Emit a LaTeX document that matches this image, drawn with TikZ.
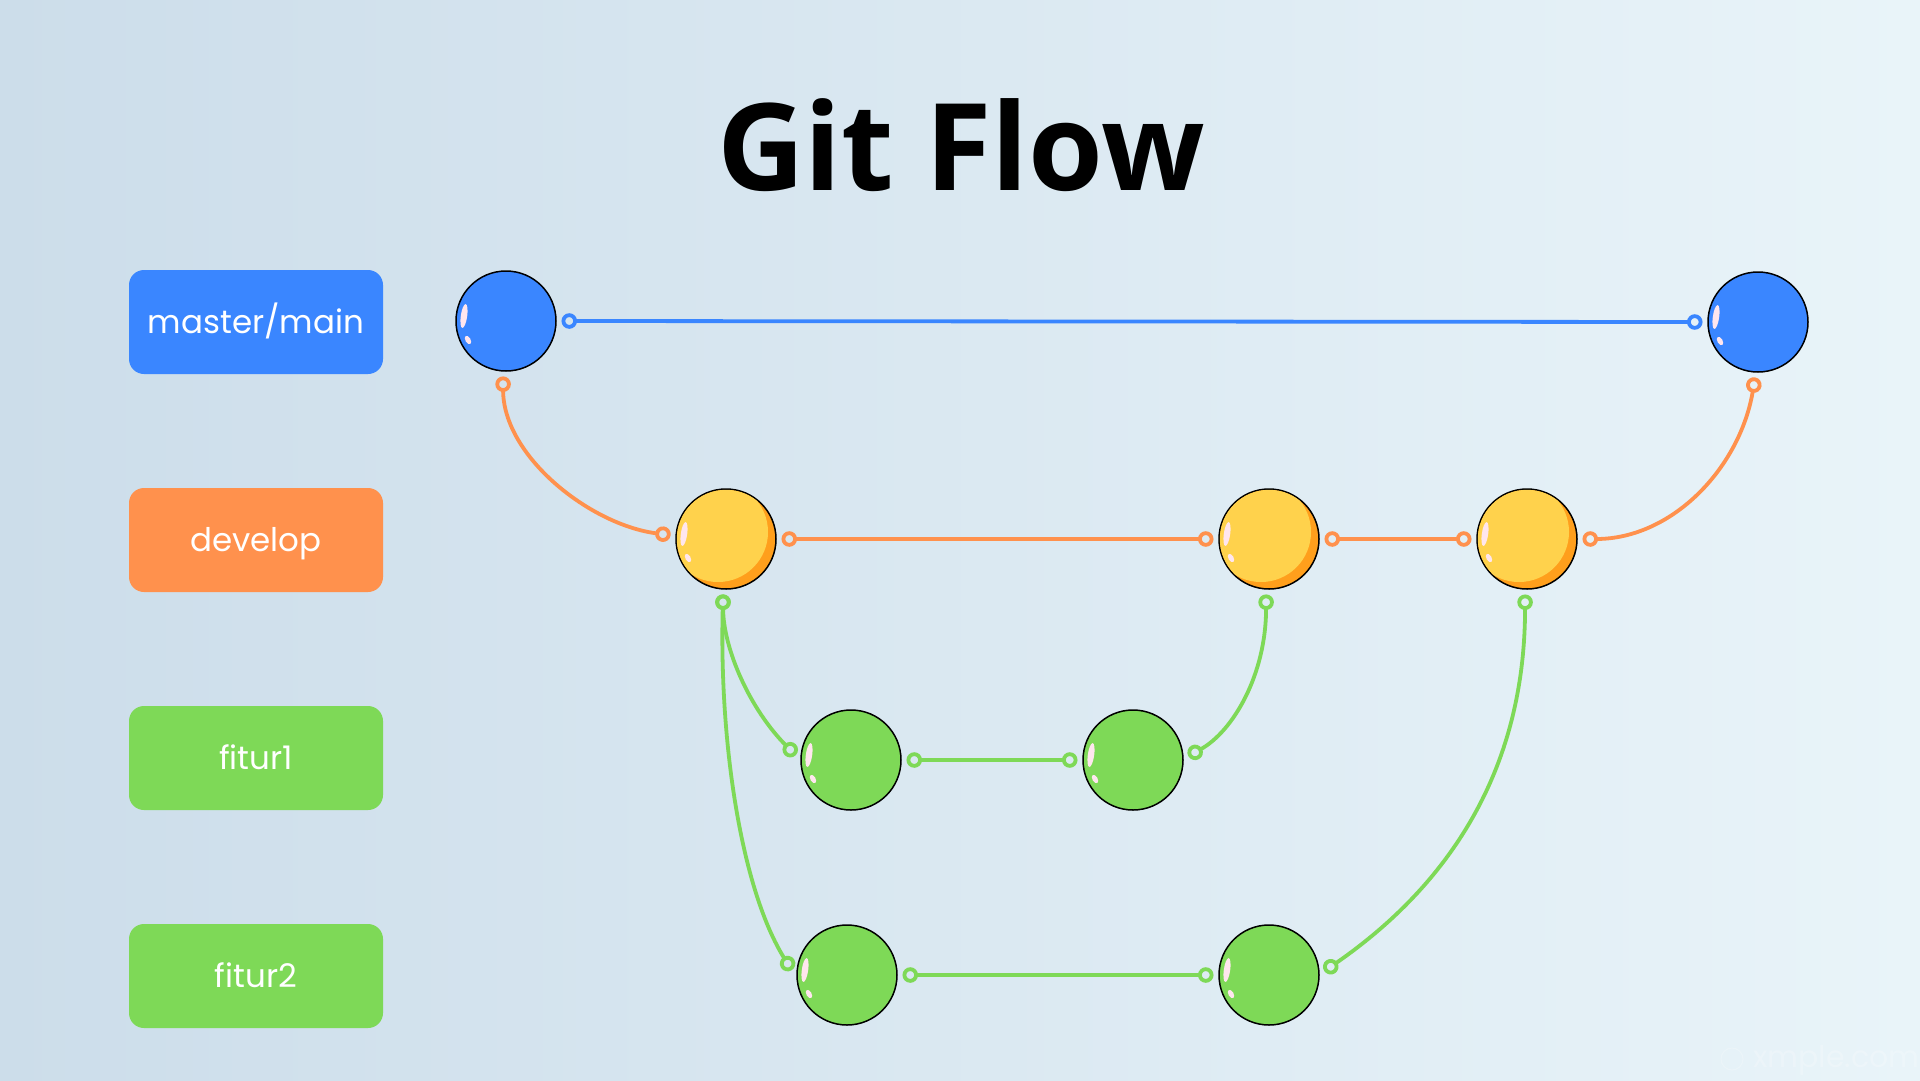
\documentclass[tikz,border=0pt]{standalone}
\usepackage{fontspec}
\setmainfont{Poppins}
\newfontfamily\titlefont{Open Sans}
\usetikzlibrary{arrows.meta,calc}
\definecolor{cblue}{HTML}{3A86FF}
\definecolor{corange}{HTML}{FF914D}
\definecolor{cgreen}{HTML}{7ED957}
\definecolor{cyellow}{HTML}{FFD24C}
\definecolor{cdeep}{HTML}{FF9F1C}
\definecolor{bgL}{HTML}{CCDDEA}
\definecolor{bgR}{HTML}{E9F4F9}
\definecolor{shinec}{HTML}{FFE6EE}
\newcommand\addshine[1]{%
  \fill[shinec, shift={(#1.center)}, rotate around={-8:(-42,-5)}] (-42,-5) ellipse (3.2pt and 12pt);
  \fill[shinec, shift={(#1.center)}, rotate around={30:(-38,19)}] (-38,19) ellipse (2.6pt and 4.6pt);
}
\newcommand\addcrescent[1]{%
  \begin{scope}
    \clip (#1.center) circle (49.2pt);
    \fill[cyellow] ($(#1.center)+(-8,-7)$) circle (50pt);
  \end{scope}
}
\begin{document}
\begin{tikzpicture}[x=1pt,y=-1pt,
  lbl/.style={rounded corners=15pt, minimum width=254pt, minimum height=104pt,
    text=white, font=\fontsize{32.5}{40}\selectfont, inner sep=0pt,
    text height=26pt, text depth=4pt},
  commit/.style={circle, minimum size=100pt, inner sep=0pt, outer sep=5.5pt,
    draw=black, line width=1.5pt},
  link/.style={line width=3.8pt, line cap=round,
    {Circle[open,length=15.5pt,width=15.5pt]}-{Circle[open,length=15.5pt,width=15.5pt]}},
]
\useasboundingbox (0,0) rectangle (1920,1080);
\shade[left color=bgL, right color=bgR] (0,0) rectangle (1920,1080);

% title
\node[font=\titlefont\bfseries\fontsize{121}{130}\selectfont, anchor=base, inner sep=0pt, text=black] (title) at (961,190) {Git Flow};

% branch labels
\node[lbl, fill=cblue] (lm) at (256,322) {master/main};
\node[lbl, fill=corange] (ld) at (256,540) {develop};
\node[lbl, fill=cgreen] (lf1) at (256,758) {fitur1};
\node[lbl, fill=cgreen] (lf2) at (256,976) {fitur2};

% commits
\node[commit, fill=cblue] (b1) at (506,321) {};
\node[commit, fill=cblue] (b2) at (1758,322) {};
\node[commit, fill=cdeep] (y1) at (726,539) {};
\node[commit, fill=cdeep] (y2) at (1269,539) {};
\node[commit, fill=cdeep] (y3) at (1527,539) {};
\node[commit, fill=cgreen] (f1a) at (851,760) {};
\node[commit, fill=cgreen] (f1b) at (1133,760) {};
\node[commit, fill=cgreen] (f2a) at (847,975) {};
\node[commit, fill=cgreen] (f2b) at (1269,975) {};

\addcrescent{y1}\addcrescent{y2}\addcrescent{y3}
\foreach \n in {b1,b2,y1,y2,y3,f1a,f1b,f2a,f2b}{\addshine{\n}}

% connectors
\draw[link, cblue] (b1.east) -- (b2.west);
\draw[link, corange] (b1.-93) .. controls +(0,80) and +(-80,-10) .. (y1.176);
\draw[link, corange] (y1.east) -- (y2.west);
\draw[link, corange] (y2.east) -- (y3.west);
\draw[link, corange] (y3.east) .. controls +(90,0) and +(-15,90) .. (b2.-93);
\draw[link, cgreen] (y1.-93) .. controls +(0,55) and +(-45,-45) .. (f1a.175);
\draw[link, cgreen] (y1.-93) .. controls +(-4,150) and +(-50,-80) .. (f2a.175);
\draw[link, cgreen] (f1a.east) -- (f1b.west);
\draw[link, cgreen] (f1b.4) .. controls +(45,-25) and +(0,80) .. (y2.-93);
\draw[link, cgreen] (f2a.east) -- (f2b.west);
\draw[link, cgreen] (f2b.4) .. controls +(130,-90) and +(0,170) .. (y3.-92);

% watermark
\node[draw=white, line width=1pt, circle, minimum size=22pt, inner sep=0pt, opacity=0.22] (wmc) at (1732,1059) {};
\node[text=white, opacity=0.22, font=\fontsize{30}{36}\selectfont, anchor=base west, inner sep=0pt] (wm) at (1753,1067) {xmple.com};
\end{tikzpicture}
\end{document}
